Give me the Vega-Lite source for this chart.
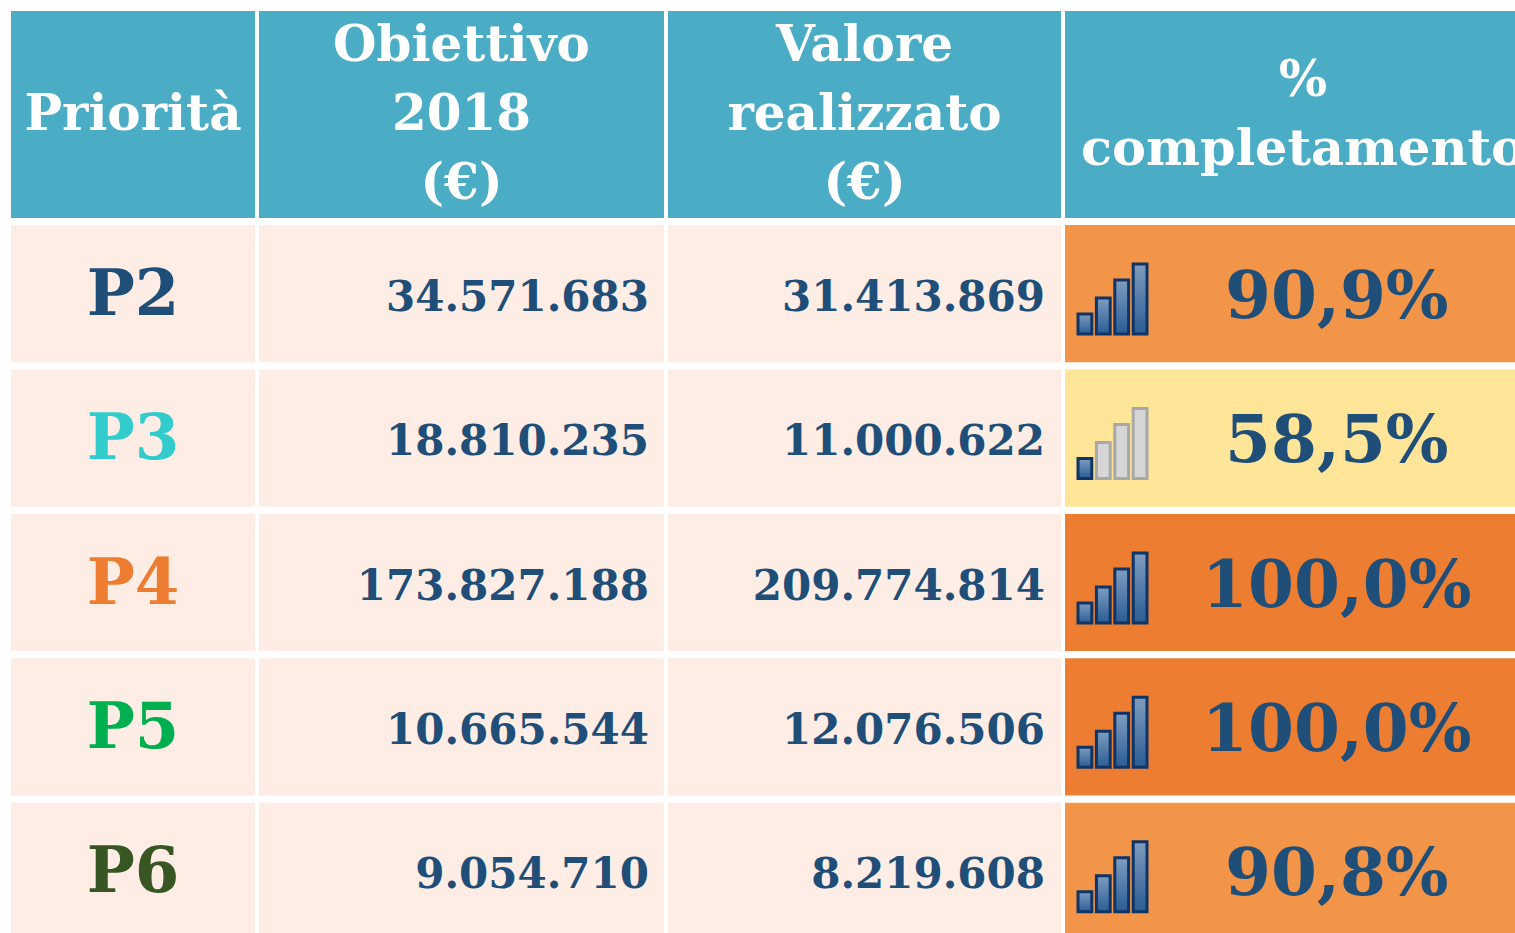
{"$schema":"https://vega.github.io/schema/vega-lite/v6.json","padding":{"left":11,"top":11,"right":0,"bottom":0},"background":"#ffffff","config":{"view":{"stroke":null},"text":{"font":"DejaVu Serif","fontWeight":"bold"}},"datasets":{"righe":[{"cella":"dati","priorita":"P2","obiettivo":"34.571.683","valore":"31.413.869","completamento":"90,9%"},{"cella":"dati","priorita":"P3","obiettivo":"18.810.235","valore":"11.000.622","completamento":"58,5%"},{"cella":"dati","priorita":"P4","obiettivo":"173.827.188","valore":"209.774.814","completamento":"100,0%"},{"cella":"dati","priorita":"P5","obiettivo":"10.665.544","valore":"12.076.506","completamento":"100,0%"},{"cella":"dati","priorita":"P6","obiettivo":"9.054.710","valore":"8.219.608","completamento":"90,8%"}],"barre":[{"priorita":"P2","barra":1,"stato":"acceso"},{"priorita":"P2","barra":2,"stato":"acceso"},{"priorita":"P2","barra":3,"stato":"acceso"},{"priorita":"P2","barra":4,"stato":"acceso"},{"priorita":"P3","barra":1,"stato":"acceso"},{"priorita":"P3","barra":2,"stato":"spento"},{"priorita":"P3","barra":3,"stato":"spento"},{"priorita":"P3","barra":4,"stato":"spento"},{"priorita":"P4","barra":1,"stato":"acceso"},{"priorita":"P4","barra":2,"stato":"acceso"},{"priorita":"P4","barra":3,"stato":"acceso"},{"priorita":"P4","barra":4,"stato":"acceso"},{"priorita":"P5","barra":1,"stato":"acceso"},{"priorita":"P5","barra":2,"stato":"acceso"},{"priorita":"P5","barra":3,"stato":"acceso"},{"priorita":"P5","barra":4,"stato":"acceso"},{"priorita":"P6","barra":1,"stato":"acceso"},{"priorita":"P6","barra":2,"stato":"acceso"},{"priorita":"P6","barra":3,"stato":"acceso"},{"priorita":"P6","barra":4,"stato":"acceso"}]},"spacing":7,"vconcat":[{"spacing":4,"hconcat":[{"width":244,"height":207,"data":{"values":[{"titolo":"Priorità"}]},"layer":[{"mark":{"type":"rect","color":"#4BACC6"},"encoding":{}},{"mark":{"type":"text","color":"#ffffff","fontSize":50,"lineHeight":69,"lineBreak":"|","clip":true},"encoding":{"text":{"field":"titolo"}}}]},{"width":405,"height":207,"data":{"values":[{"titolo":"Obiettivo|2018|(€)"}]},"layer":[{"mark":{"type":"rect","color":"#4BACC6"},"encoding":{}},{"mark":{"type":"text","color":"#ffffff","fontSize":50,"lineHeight":69,"lineBreak":"|","dy":-69,"clip":true},"encoding":{"text":{"field":"titolo"}}}]},{"width":393,"height":207,"data":{"values":[{"titolo":"Valore|realizzato|(€)"}]},"layer":[{"mark":{"type":"rect","color":"#4BACC6"},"encoding":{}},{"mark":{"type":"text","color":"#ffffff","fontSize":50,"lineHeight":69,"lineBreak":"|","dy":-69,"clip":true},"encoding":{"text":{"field":"titolo"}}}]},{"width":450,"height":207,"data":{"values":[{"titolo":"%|completamento"}]},"layer":[{"mark":{"type":"rect","color":"#4BACC6"},"encoding":{}},{"mark":{"type":"text","color":"#ffffff","fontSize":51,"lineHeight":69,"lineBreak":"|","dy":-34,"clip":true},"encoding":{"text":{"field":"titolo"},"x":{"field":"titolo","type":"nominal","bandPosition":0.529,"axis":null,"scale":{"type":"band","paddingInner":0,"paddingOuter":0}}}}]}]},{"spacing":4,"hconcat":[{"width":244,"height":708,"data":{"name":"righe"},"encoding":{"y":{"field":"priorita","type":"nominal","axis":null,"scale":{"range":[0,715],"paddingInner":0.05,"paddingOuter":0}}},"layer":[{"mark":{"type":"rect","color":"#FDEDE5","clip":true}},{"mark":{"type":"text","fontSize":64,"dy":2,"clip":true},"encoding":{"text":{"field":"priorita"},"color":{"field":"priorita","type":"nominal","legend":null,"scale":{"domain":["P2","P3","P4","P5","P6"],"range":["#1F4E79","#33CCCC","#ED7D31","#00B050","#375623"]}}}}]},{"width":405,"height":708,"data":{"name":"righe"},"encoding":{"y":{"field":"priorita","type":"nominal","axis":null,"scale":{"range":[0,715],"paddingInner":0.05,"paddingOuter":0}}},"layer":[{"mark":{"type":"rect","color":"#FDEDE5","clip":true}},{"mark":{"type":"text","fontSize":42,"color":"#1F4E79","align":"right","dx":-15,"dy":4,"clip":true},"encoding":{"text":{"field":"obiettivo"},"x":{"field":"cella","type":"nominal","bandPosition":1,"axis":null,"scale":{"type":"band","paddingInner":0,"paddingOuter":0}}}}]},{"width":393,"height":708,"data":{"name":"righe"},"encoding":{"y":{"field":"priorita","type":"nominal","axis":null,"scale":{"range":[0,715],"paddingInner":0.05,"paddingOuter":0}}},"layer":[{"mark":{"type":"rect","color":"#FDEDE5","clip":true}},{"mark":{"type":"text","fontSize":42,"color":"#1F4E79","align":"right","dx":-16,"dy":4,"clip":true},"encoding":{"text":{"field":"valore"},"x":{"field":"cella","type":"nominal","bandPosition":1,"axis":null,"scale":{"type":"band","paddingInner":0,"paddingOuter":0}}}}]},{"width":450,"height":708,"encoding":{"y":{"field":"priorita","type":"nominal","axis":null,"scale":{"range":[0,715],"paddingInner":0.05,"paddingOuter":0}}},"resolve":{"scale":{"x":"independent","color":"independent"}},"layer":[{"data":{"name":"righe"},"mark":{"type":"rect","clip":true},"encoding":{"color":{"field":"priorita","type":"nominal","legend":null,"scale":{"domain":["P2","P3","P4","P5","P6"],"range":["#F29548","#FFE597","#ED7D31","#ED7D31","#F29548"]}}}},{"data":{"name":"righe"},"mark":{"type":"text","fontSize":66,"color":"#1F4E79","dy":4,"clip":true},"encoding":{"text":{"field":"completamento"},"x":{"field":"cella","type":"nominal","bandPosition":0.604,"axis":null,"scale":{"type":"band","paddingInner":0,"paddingOuter":0}}}},{"data":{"name":"barre"},"transform":[{"filter":"datum.barra==1"}],"mark":{"type":"rect","height":20,"yOffset":30.4,"strokeWidth":3,"clip":true},"encoding":{"x":{"field":"barra","type":"ordinal","axis":null,"scale":{"type":"band","domain":[1,2,3,4],"range":[13,82],"paddingInner":0.25,"paddingOuter":0}},"fill":{"condition":{"test":"datum.stato=='spento'","value":"#D6D6D6"},"value":{"gradient":"linear","x1":0,"y1":0,"x2":0,"y2":1,"stops":[{"offset":0,"color":"#7F9DBF"},{"offset":1,"color":"#2A5C95"}]}},"stroke":{"condition":{"test":"datum.stato=='spento'","value":"#A8A8A8"},"value":"#0F3566"}}},{"data":{"name":"barre"},"transform":[{"filter":"datum.barra==2"}],"mark":{"type":"rect","height":36,"yOffset":22.4,"strokeWidth":3,"clip":true},"encoding":{"x":{"field":"barra","type":"ordinal","axis":null,"scale":{"type":"band","domain":[1,2,3,4],"range":[13,82],"paddingInner":0.25,"paddingOuter":0}},"fill":{"condition":{"test":"datum.stato=='spento'","value":"#D6D6D6"},"value":{"gradient":"linear","x1":0,"y1":0,"x2":0,"y2":1,"stops":[{"offset":0,"color":"#7F9DBF"},{"offset":1,"color":"#2A5C95"}]}},"stroke":{"condition":{"test":"datum.stato=='spento'","value":"#A8A8A8"},"value":"#0F3566"}}},{"data":{"name":"barre"},"transform":[{"filter":"datum.barra==3"}],"mark":{"type":"rect","height":54,"yOffset":13.4,"strokeWidth":3,"clip":true},"encoding":{"x":{"field":"barra","type":"ordinal","axis":null,"scale":{"type":"band","domain":[1,2,3,4],"range":[13,82],"paddingInner":0.25,"paddingOuter":0}},"fill":{"condition":{"test":"datum.stato=='spento'","value":"#D6D6D6"},"value":{"gradient":"linear","x1":0,"y1":0,"x2":0,"y2":1,"stops":[{"offset":0,"color":"#7F9DBF"},{"offset":1,"color":"#2A5C95"}]}},"stroke":{"condition":{"test":"datum.stato=='spento'","value":"#A8A8A8"},"value":"#0F3566"}}},{"data":{"name":"barre"},"transform":[{"filter":"datum.barra==4"}],"mark":{"type":"rect","height":70,"yOffset":5.4,"strokeWidth":3,"clip":true},"encoding":{"x":{"field":"barra","type":"ordinal","axis":null,"scale":{"type":"band","domain":[1,2,3,4],"range":[13,82],"paddingInner":0.25,"paddingOuter":0}},"fill":{"condition":{"test":"datum.stato=='spento'","value":"#D6D6D6"},"value":{"gradient":"linear","x1":0,"y1":0,"x2":0,"y2":1,"stops":[{"offset":0,"color":"#7F9DBF"},{"offset":1,"color":"#2A5C95"}]}},"stroke":{"condition":{"test":"datum.stato=='spento'","value":"#A8A8A8"},"value":"#0F3566"}}}]}]}]}
